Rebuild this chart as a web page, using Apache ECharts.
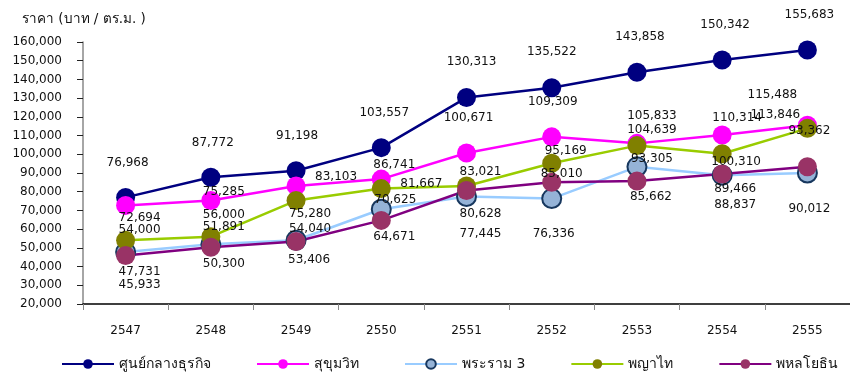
<!DOCTYPE html>
<html>
<head>
<meta charset="utf-8">
<script src="https://cdn.jsdelivr.net/npm/echarts@6/dist/echarts.min.js"></script>
<style>
  html, body { margin: 0; padding: 0; background: #fff; }
  #chart { width: 850px; height: 373px; }
</style>
</head>
<body>
<div id="chart"></div>
<script>
// Land price per square metre by district, B.E. 2547–2555
const years = ['2547', '2548', '2549', '2550', '2551', '2552', '2553', '2554', '2555'];
const seriesNames = ['ศูนย์กลางธุรกิจ', 'สุขุมวิท', 'พระราม 3', 'พญาไท', 'พหลโยธิน'];

const cbd        = [76968, 87772, 91198, 103557, 130313, 135522, 143858, 150342, 155683];
const sukhumvit  = [72694, 75285, 83103, 86741, 100671, 109309, 105833, 110314, 115488];
const rama3      = [47731, 51891, 54040, 70625, 77445, 76336, 93305, 88837, 90012];
const phayathai  = [54000, 56000, 75280, 81667, 83021, 95169, 104639, 100310, 113846];
const phahonyothin = [45933, 50300, 53406, 64671, 80628, 85010, 85662, 89466, 93362];

const yTicks = { min: 20000, max: 160000, step: 10000 };

// Value-label placement, offsets from each marker's centre (px)
const labelShift = [
  [[2,-35],[2,-34],[1,-35],[3,-35],[5,-36],[0,-36],[3,-35],[3,-35],[2,-35]],
  [[14,12],[13,-9],[40,-9],[13,-14],[2,-35],[1,-35],[15,-27],[15,-17],[-35,-30]],
  [[14,20],[13,-17],[14,-11],[14,-9],[14,37],[2,35],[15,-8],[13,30],[2,36]],
  [[14,-10],[13,-22],[14,13],[40,-5],[14,-14],[14,-12],[15,-16],[14,8],[-32,-13]],
  [[14,29],[13,17],[13,18],[13,16],[14,23],[10,-8],[14,16],[13,15],[2,-36]]
];

const styles = [
  { line: '#000080', fill: '#000080', border: '#000080', bw: 0 },
  { line: '#FF00FF', fill: '#FF00FF', border: '#FF00FF', bw: 0 },
  { line: '#99CCFF', fill: '#95B3D7', border: '#17375E', bw: 2 },
  { line: '#99CC00', fill: '#808000', border: '#808000', bw: 0 },
  { line: '#800080', fill: '#993366', border: '#993366', bw: 0 }
];

const FONT = 'Tahoma, "DejaVu Sans", "Noto Sans", sans-serif';
const fmt = v => Number(v).toLocaleString('en-US');

const allValues = [cbd, sukhumvit, rama3, phayathai, phahonyothin];

const series = allValues.map((vals, i) => ({
  name: seriesNames[i],
  type: 'line',
  data: vals.map((v, j) => ({ value: v, label: { offset: labelShift[i][j] } })),
  symbol: 'circle',
  symbolSize: 19,
  lineStyle: { color: styles[i].line, width: 2.5 },
  itemStyle: { color: styles[i].fill, borderColor: styles[i].border, borderWidth: styles[i].bw },
  label: {
    show: true,
    position: 'inside',
    color: '#111',
    fontSize: 12,
    fontFamily: FONT,
    formatter: p => fmt(p.value)
  },
  emphasis: { disabled: true },
  animation: false
}));

const chart = echarts.init(document.getElementById('chart'), null, { renderer: 'canvas' });
chart.setOption({
  backgroundColor: '#fff',
  animation: false,
  title: {
    text: 'ราคา (บาท / ตร.ม. )',
    left: 17,
    top: 7,
    textStyle: { fontSize: 13.5, fontWeight: 'normal', color: '#111', fontFamily: FONT }
  },
  grid: { left: 83, right: -7, top: 42, bottom: 69, containLabel: false },
  xAxis: {
    type: 'category',
    data: years,
    boundaryGap: true,
    axisLine: { lineStyle: { color: '#000', width: 1.5 } },
    axisTick: { show: true, length: 6, lineStyle: { color: '#888' } },
    axisLabel: { margin: 21, fontSize: 12, color: '#111', fontFamily: FONT }
  },
  yAxis: {
    type: 'value',
    min: yTicks.min,
    max: yTicks.max,
    interval: yTicks.step,
    axisLine: { show: true, lineStyle: { color: '#888', width: 1.5 } },
    axisTick: { show: true, length: 6, lineStyle: { color: '#222' } },
    splitLine: { show: false },
    axisLabel: { margin: 21, fontSize: 12, color: '#111', fontFamily: FONT, formatter: v => fmt(v) }
  },
  legend: {
    data: seriesNames,
    top: 352,
    left: 56,
    itemWidth: 52,
    itemHeight: 12,
    itemGap: 45,
    textStyle: { fontSize: 14, color: '#111', fontFamily: FONT }
  },
  series
});
</script>
</body>
</html>
